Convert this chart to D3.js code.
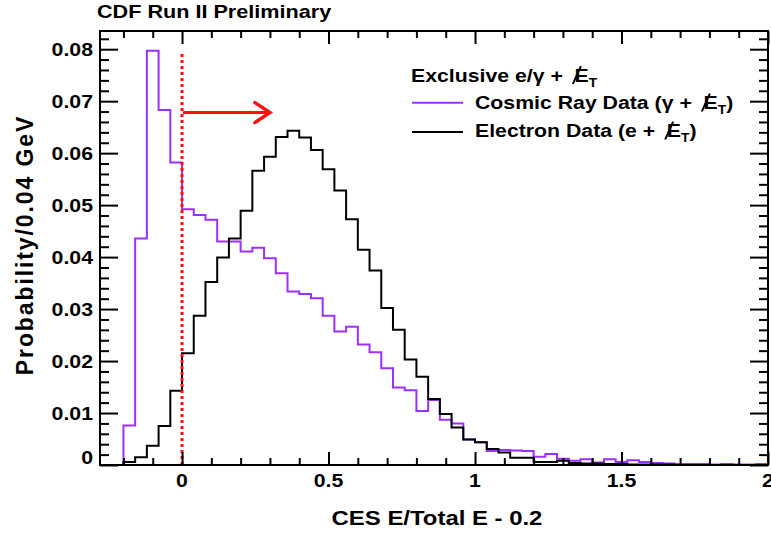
<!DOCTYPE html>
<html>
<head>
<meta charset="utf-8">
<script src="https://cdn.jsdelivr.net/npm/d3@7/dist/d3.min.js"></script>
<style>
  html, body { margin: 0; padding: 0; background: #fff; }
  svg { display: block; }
  text { font-family: "Liberation Sans", Arial, Helvetica, sans-serif; fill: #000; }
</style>
</head>
<body>
<svg id="chart" width="771" height="533"></svg>
<script>
// ---------------- data ----------------
const binStart = -0.28;
const binWidth = 0.04;

// Cosmic ray data (gamma + MET), probability per 0.04 bin, bins from -0.28 to 2.0
const cosmic = [
  0, 0, 0.0076, 0.0436, 0.0797, 0.0683, 0.0582,
  0.0492, 0.0481, 0.0472, 0.0430, 0.0430, 0.0411, 0.0418, 0.0398, 0.0369, 0.0334,
  0.0329, 0.0321, 0.0287, 0.0257, 0.0266, 0.0232, 0.0217,
  0.0186, 0.0149, 0.0144, 0.0104, 0.0125, 0.0087, 0.0080, 0.0049, 0.0044,
  0.0027, 0.0029, 0.0028, 0.0027, 0.0016, 0.0021, 0.0012, 0.0008, 0.0011, 0.0005, 0.0011, 0.0006,
  0.0009, 0.0006, 0.0004, 0.0003, 0.0002, 0.0002, 0.0002, 0.0001, 0.0002, 0.0001, 0.0001, 0.0002
];

// Electron data (e + MET)
const electron = [
  0, 0, 0.0006, 0.0015, 0.0037, 0.0075, 0.0143,
  0.0215, 0.0287, 0.0352, 0.0399, 0.0436, 0.0489, 0.0566, 0.0593, 0.0631, 0.0643,
  0.0630, 0.0606, 0.0569, 0.0528, 0.0473, 0.0414, 0.0374,
  0.0302, 0.0260, 0.0203, 0.0170, 0.0127, 0.0098, 0.0072, 0.0049, 0.0044,
  0.0031, 0.0024, 0.0014, 0.0014, 0.0006, 0.0006, 0.0008, 0.0004,
  0.0003, 0.0003, 0.0002, 0.0002, 0.0001, 0.0001, 0.0001, 0.0001,
  0, 0, 0, 0, 0, 0, 0, 0
];

const xMajorTicks = [0, 0.5, 1, 1.5, 2];
const xMajorLabels = ["0", "0.5", "1", "1.5", "2"];
const yMajorTicks = [0, 0.01, 0.02, 0.03, 0.04, 0.05, 0.06, 0.07, 0.08];
const yMajorLabels = ["0", "0.01", "0.02", "0.03", "0.04", "0.05", "0.06", "0.07", "0.08"];

const cutValue = 0;        // dotted cut line position
const cutTop = 0.0792;     // top of dotted line
const arrowEnd = 0.30;     // arrow extends to
const arrowLevel = 0.0678; // arrow height

const titleText = "CDF Run II Preliminary";
const xTitle = "CES E/Total E - 0.2";
const yTitle = "Probability/0.04 GeV";
const legendHeader = "Exclusive e/\u03b3 +";
const legendCosmic = "Cosmic Ray Data (\u03b3 +";
const legendElectron = "Electron Data (e +";

// ---------------- layout ----------------
const svg = d3.select("#chart");
svg.append("rect").attr("width", 771).attr("height", 533).attr("fill", "#fff");

const L = 100, R = 768, T = 31, B = 465;
const x = d3.scaleLinear().domain([-0.28, 2]).range([L, R]);
const y = d3.scaleLinear().domain([0, 0.0835]).range([B, T]);
const SX = 1.15; // horizontal text stretch
const purple = "#9b30ff";
const red = "#ff1010";

// histograms
function stepPoints(vals) {
  const pts = vals.map((v, i) => [binStart + i * binWidth, v]);
  pts.push([binStart + vals.length * binWidth, vals[vals.length - 1]]);
  return pts;
}
const line = d3.line().x(d => x(d[0])).y(d => y(d[1])).curve(d3.curveStepAfter);

svg.append("path").attr("d", line(stepPoints(cosmic)))
  .attr("fill", "none").attr("stroke", purple).attr("stroke-width", 2);
svg.append("path").attr("d", line(stepPoints(electron)))
  .attr("fill", "none").attr("stroke", "#000").attr("stroke-width", 2);

// cut line and arrow
svg.append("line")
  .attr("x1", x(cutValue)).attr("x2", x(cutValue))
  .attr("y1", y(0)).attr("y2", y(cutTop))
  .attr("stroke", red).attr("stroke-width", 3)
  .attr("stroke-dasharray", "3,3");
const ay = y(arrowLevel);
svg.append("line")
  .attr("x1", x(cutValue) + 1).attr("x2", x(arrowEnd) - 1)
  .attr("y1", ay).attr("y2", ay)
  .attr("stroke", red).attr("stroke-width", 3);
svg.append("path")
  .attr("d", `M${x(arrowEnd) - 15},${ay - 10} L${x(arrowEnd)},${ay} L${x(arrowEnd) - 15},${ay + 10}`)
  .attr("fill", "none").attr("stroke", red).attr("stroke-width", 3.5)
  .attr("stroke-linecap", "round");

// axes (ticks inward on all four sides)
const xMinor = d3.range(-0.2, 2.0001, 0.1).filter(v => Math.abs(v * 2 - Math.round(v * 2)) > 1e-6);
const yMinor = d3.range(0, 0.0835, 0.002).filter(v => Math.abs(v * 100 - Math.round(v * 100)) > 1e-6);

function axisG(axis, tx, ty) {
  const g = svg.append("g").attr("transform", `translate(${tx},${ty})`).call(axis);
  g.select(".domain").remove();
  g.selectAll("text").remove();
  g.selectAll("line").attr("stroke", "#000").attr("stroke-width", 2);
  return g;
}
axisG(d3.axisBottom(x).tickValues(xMajorTicks).tickSize(-13), 0, B);
axisG(d3.axisBottom(x).tickValues(xMinor).tickSize(-7), 0, B);
axisG(d3.axisTop(x).tickValues(xMajorTicks).tickSize(-13), 0, T);
axisG(d3.axisTop(x).tickValues(xMinor).tickSize(-7), 0, T);
axisG(d3.axisLeft(y).tickValues(yMajorTicks).tickSize(-18), L, 0);
axisG(d3.axisLeft(y).tickValues(yMinor).tickSize(-9), L, 0);
axisG(d3.axisRight(y).tickValues(yMajorTicks).tickSize(-18), R, 0);
axisG(d3.axisRight(y).tickValues(yMinor).tickSize(-9), R, 0);

// frame
svg.append("rect").attr("x", L).attr("y", T).attr("width", R - L).attr("height", B - T)
  .attr("fill", "none").attr("stroke", "#000").attr("stroke-width", 2);

// text helper
function sText(tx, ty, str, anchor, size, weight) {
  return svg.append("text")
    .attr("transform", `translate(${tx},${ty}) scale(${SX},1)`)
    .attr("text-anchor", anchor)
    .attr("font-size", size).attr("font-weight", weight || "bold")
    .text(str);
}

// tick labels
xMajorTicks.forEach((v, i) => sText(x(v), 487, xMajorLabels[i], "middle", 18.5));
yMajorTicks.forEach((v, i) => sText(L - 7, v === 0 ? B - 1 : y(v) + 6.5, yMajorLabels[i], "end", 18.5));

// titles
sText(97, 17.5, titleText, "start", 18.8);
sText(437, 525, xTitle, "middle", 20.8);
svg.append("text")
  .attr("transform", `translate(33,245) rotate(-90)`)
  .attr("text-anchor", "middle")
  .attr("font-size", 23).attr("font-weight", "bold")
  .attr("letter-spacing", 1.9)
  .text(yTitle);

// legend entries with missing-ET symbol (E with a slash, subscript T)
function metText(tx, ty, prefix, closing, size) {
  const g = svg.append("g").attr("transform", `translate(${tx},${ty}) scale(${SX},1)`);
  const t = g.append("text").attr("font-size", size).attr("font-weight", "bold");
  t.append("tspan").text(prefix);
  t.append("tspan").attr("dx", 0.55 * size).text("E");
  t.append("tspan").attr("dy", 0.28 * size).attr("font-size", size * 0.65).text("T");
  if (closing) t.append("tspan").attr("dy", -0.28 * size).text(closing);
  const p = t.node().getStartPositionOfChar(prefix.length);
  g.append("line")
    .attr("x1", p.x - 1.5).attr("y1", 2.5)
    .attr("x2", p.x + 5.5).attr("y2", -0.83 * size)
    .attr("stroke", "#000").attr("stroke-width", 1.8);
  return g;
}
metText(411, 81.5, legendHeader, null, 18.5);
svg.append("line").attr("x1", 412).attr("x2", 463).attr("y1", 102.7).attr("y2", 102.7)
  .attr("stroke", purple).attr("stroke-width", 2);
metText(475, 109, legendCosmic, ")", 18.5);
svg.append("line").attr("x1", 412).attr("x2", 463).attr("y1", 132).attr("y2", 132)
  .attr("stroke", "#000").attr("stroke-width", 2);
metText(475, 137, legendElectron, ")", 18.5);
</script>
</body>
</html>
